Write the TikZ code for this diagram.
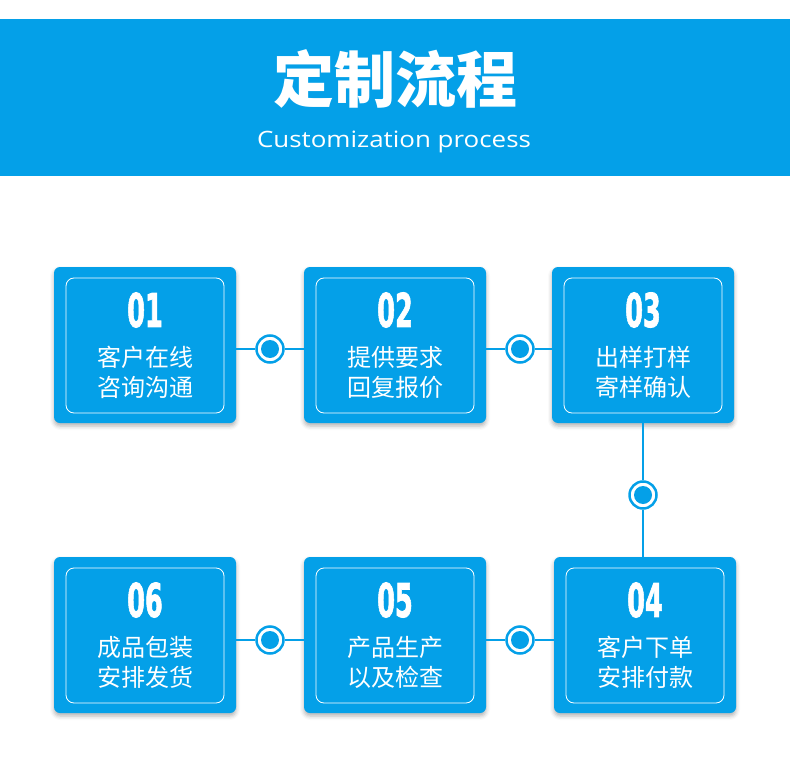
\documentclass[tikz,border=0pt]{standalone}
\usepackage{fontspec}
\usetikzlibrary{shadows.blur}
\newfontfamily\cjk{Noto Sans CJK SC}
\newfontfamily\numfont{DejaVu Sans Bold}[FakeBold=2]
\newfontfamily\subfont{Open Sans}
\definecolor{flowblue}{RGB}{4,160,232}

\begin{document}
\begin{tikzpicture}[x=1pt, y=-1pt,
		stepbox/.style={rectangle, fill=flowblue, rounded corners=6pt, minimum width=182pt, minimum height=156pt, inner sep=0pt,
			blur shadow={shadow xshift=0pt, shadow yshift=-3pt, shadow blur radius=4pt, shadow opacity=30},
			path picture={\draw[white, line width=0.8pt, rounded corners=8pt] ([shift={(12pt,-11pt)}]path picture bounding box.north west) rectangle ([shift={(-12pt,10pt)}]path picture bounding box.south east);}},
		stepnum/.style={text=white, inner sep=0pt, font=\numfont\fontsize{46.5}{46.5}\selectfont},
		steptext/.style={text=white, inner sep=0pt, font=\cjk\fontsize{24}{24}\selectfont},
		dot/.style={circle, draw=flowblue, line width=2.5pt, fill=white, minimum size=27pt, inner sep=0pt,
			path picture={\fill[flowblue] (path picture bounding box.center) circle (9pt);}},
		link/.style={flowblue, line width=2pt}]
		\useasboundingbox (0,0) rectangle (790,757);
		\fill[flowblue] (0,19) rectangle (790,176);
		\node[text=white, inner sep=0pt, font=\cjk\bfseries\fontsize{61}{61}\selectfont] (title) at (395,79) {定制流程};
		\node[text=white, inner sep=0pt, font=\subfont\fontsize{22.5}{22.5}\selectfont, anchor=base] (subtitle) at (394,148) {\resizebox{274pt}{\height}{Customization process}};

		\node[stepbox] (box1) at (145,345) {};
		\node[stepbox] (box2) at (395,345) {};
		\node[stepbox] (box3) at (643,345) {};
		\node[stepbox] (box4) at (645,635) {};
		\node[stepbox] (box5) at (395,635) {};
		\node[stepbox] (box6) at (145,635) {};

		\node[stepnum] (num1) at ([yshift=35pt]box1.center) {\scalebox{0.55}[1]{01}};
		\node[stepnum] (num2) at ([yshift=35pt]box2.center) {\scalebox{0.55}[1]{02}};
		\node[stepnum] (num3) at ([yshift=35pt]box3.center) {\scalebox{0.55}[1]{03}};
		\node[stepnum] (num4) at ([yshift=35pt]box4.center) {\scalebox{0.55}[1]{04}};
		\node[stepnum] (num5) at ([yshift=35pt]box5.center) {\scalebox{0.55}[1]{05}};
		\node[stepnum] (num6) at ([yshift=35pt]box6.center) {\scalebox{0.55}[1]{06}};

		\node[steptext] (text1a) at ([yshift=-12pt]box1.center) {客户在线};
		\node[steptext] (text1b) at ([yshift=-42pt]box1.center) {咨询沟通};
		\node[steptext] (text2a) at ([yshift=-12pt]box2.center) {提供要求};
		\node[steptext] (text2b) at ([yshift=-42pt]box2.center) {回复报价};
		\node[steptext] (text3a) at ([yshift=-12pt]box3.center) {出样打样};
		\node[steptext] (text3b) at ([yshift=-42pt]box3.center) {寄样确认};
		\node[steptext] (text4a) at ([yshift=-12pt]box4.center) {客户下单};
		\node[steptext] (text4b) at ([yshift=-42pt]box4.center) {安排付款};
		\node[steptext] (text5a) at ([yshift=-12pt]box5.center) {产品生产};
		\node[steptext] (text5b) at ([yshift=-42pt]box5.center) {以及检查};
		\node[steptext] (text6a) at ([yshift=-12pt]box6.center) {成品包装};
		\node[steptext] (text6b) at ([yshift=-42pt]box6.center) {安排发货};

		\node[dot] (dot12) at (270,349) {};
		\node[dot] (dot23) at (520,349) {};
		\node[dot] (dot34) at (643,495) {};
		\node[dot] (dot45) at (520,640) {};
		\node[dot] (dot56) at (270,640) {};

		\draw[link] (box1.east |- dot12) -- (dot12.west);
		\draw[link] (dot12.east) -- (box2.west |- dot12);
		\draw[link] (box2.east |- dot23) -- (dot23.west);
		\draw[link] (dot23.east) -- (box3.west |- dot23);
		\draw[link] (dot34 |- box3.south) -- (dot34.north);
		\draw[link] (dot34.south) -- (dot34 |- box4.north);
		\draw[link] (box4.west |- dot45) -- (dot45.east);
		\draw[link] (dot45.west) -- (box5.east |- dot45);
		\draw[link] (box5.west |- dot56) -- (dot56.east);
		\draw[link] (dot56.west) -- (box6.east |- dot56);
	\end{tikzpicture}
\end{document}
